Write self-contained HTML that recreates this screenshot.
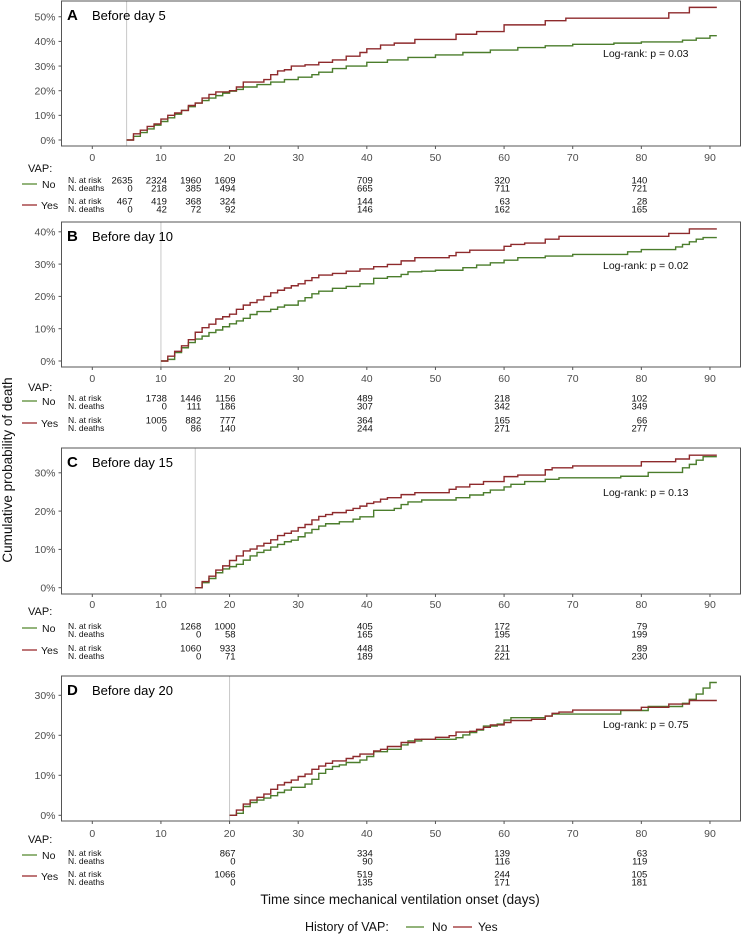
<!DOCTYPE html>
<html><head><meta charset="utf-8"><style>
html,body{margin:0;padding:0;background:#fff;}
svg{display:block;font-family:"Liberation Sans",Arial,sans-serif;}
</style></head><body>
<svg id="chart" width="742" height="939" viewBox="0 0 742 939" xmlns="http://www.w3.org/2000/svg">
<text x="0" y="0" transform="translate(12,470) rotate(-90)" text-anchor="middle" font-size="13.5" fill="#111">Cumulative probability of death</text>
<text x="400" y="904" text-anchor="middle" font-size="13.5" fill="#111">Time since mechanical ventilation onset (days)</text>
<g>
<text x="305" y="931" font-size="12.5" fill="#111">History of VAP:</text>
<line x1="406" y1="927" x2="424" y2="927" stroke="#6f9a4f" stroke-width="1.6"/>
<text x="432" y="931" font-size="12" fill="#111">No</text>
<line x1="453" y1="927" x2="472" y2="927" stroke="#a8484a" stroke-width="1.6"/>
<text x="478" y="931" font-size="12" fill="#111">Yes</text>
</g>
</svg>
<script>
// ---- data ----
const panelLetters = ["A","B","C","D"];
const panelTitles = ["Before day 5","Before day 10","Before day 15","Before day 20"];
const landmarkDays = [5,10,15,20];
const logrankLabels = ["Log-rank: p = 0.03","Log-rank: p = 0.02","Log-rank: p = 0.13","Log-rank: p = 0.75"];
const xTicks = [0,10,20,30,40,50,60,70,80,90];
const yTicksA = [0,10,20,30,40,50];
const yTicksB = [0,10,20,30,40];
const yTicksC = [0,10,20,30];
const yTicksD = [0,10,20,30];

const noA = [[5,0],[6,1.5],[7,3],[8,4.5],[9,6],[10,7.5],[11,9],[12,10.5],[13,12],[14,13.5],[15,15],[16,16],[17,17],[18,18],[19,19],[20,19.8],[21,20.5],[22,21.5],[24,22.5],[26,23.5],[28,24.5],[30,25.5],[32,26.5],[33,27.5],[35,29],[37,30],[40,31.5],[43,32.5],[46,33.5],[50,34.5],[54,35.5],[58,36.5],[62,37.5],[66,38.2],[70,38.8],[76,39.3],[80,39.8],[86,40.5],[88,41.3],[90,42.3],[91,42.3]];
const yesA = [[5,0],[6,2.5],[7,4],[8,5.5],[9,6.5],[10,8.5],[11,10],[12,11],[13,12],[14,14],[15,15],[16,17],[17,18.5],[18,19.5],[20,20],[21,21.5],[22,23.5],[25,24.5],[26,26.5],[27,28],[28,28.5],[29,30],[31,30.5],[33,31.5],[35,32.5],[37,34],[39,35.5],[40,37],[42,38.5],[44,39.3],[47,40.8],[53,42.9],[56,44],[60,46.7],[66,48.4],[69,49.4],[84,51.6],[87,53.8],[91,53.8]];
const noB = [[10,0],[11,0.5],[12,2.6],[13,4.1],[14,5.7],[15,6.8],[16,7.7],[17,8.8],[18,9.6],[19,10.6],[20,11.5],[21,12.4],[22,13.2],[23,14.4],[24,15.3],[26,16],[27,16.7],[28,17.3],[30,18.6],[31,19.6],[32,20.8],[33,21.6],[35,22.5],[37,23.1],[39,23.9],[41,25.6],[43,26.1],[45,26.8],[46,27.6],[48,27.8],[50,28.1],[54,28.9],[56,29.7],[58,30.4],[60,31.2],[62,32],[66,32.5],[70,33],[78,33.8],[80,34.5],[85,35.3],[86,36.1],[87,36.9],[88,37.7],[89,38.2],[91,38.2]];
const yesB = [[10,0],[11,1.5],[12,3],[13,4.7],[14,6.6],[15,8.9],[16,10.3],[17,11.4],[18,13],[19,13.7],[20,14.5],[21,16],[22,17.3],[23,18.1],[24,18.9],[25,20],[26,21.1],[27,21.9],[28,22.6],[29,23.3],[30,23.9],[31,24.9],[32,25.8],[33,26.6],[35,27.1],[37,27.8],[39,28.5],[41,29.2],[43,29.9],[45,31],[47,32],[52,32.6],[53,33.6],[55,34.3],[60,35.5],[61,36.1],[63,36.5],[66,37.7],[68,38.6],[84,39.5],[87,40.9],[91,40.9]];
const noC = [[15,0],[16,1.3],[17,2.4],[18,3.9],[19,4.9],[20,5.5],[21,6.1],[22,7.2],[23,8.3],[24,9.2],[25,9.8],[26,10.6],[27,11.3],[28,12],[29,12.4],[30,13.3],[31,14.3],[32,15.2],[33,16.1],[34,16.7],[36,17.2],[38,17.9],[39,18.5],[41,20.2],[44,20.7],[45,21.7],[46,22.4],[48,22.9],[53,23.5],[55,24.2],[57,24.8],[58,25.5],[60,26.3],[61,27],[63,27.7],[66,28.3],[68,28.7],[77,29.1],[81,30.1],[86,31.3],[87,32.2],[88,33.3],[89,34.2],[91,34.2]];
const yesC = [[15,0],[16,1.6],[17,3],[18,4.6],[19,5.7],[20,7.1],[21,8.3],[22,9.6],[23,10.1],[24,10.9],[25,11.6],[26,12.5],[27,13.6],[28,14.2],[29,14.8],[30,15.7],[31,16.5],[32,17.7],[33,18.6],[34,19.1],[35,19.6],[37,20.2],[38,20.7],[39,21.3],[40,22],[41,22.4],[42,23.1],[43,23.5],[45,24.3],[47,24.8],[52,25.7],[53,26.3],[55,27],[57,27.7],[60,29],[62,29.4],[66,30.8],[67,31.3],[70,31.8],[80,32.9],[85,33.6],[87,34.6],[91,34.6]];
const noD = [[20,0],[21,0.5],[22,2.2],[23,3.2],[24,3.8],[25,4.3],[26,4.9],[27,5.7],[28,6.3],[29,7],[31,7.8],[32,9],[33,10.5],[34,11.5],[35,12.2],[36,12.6],[37,13.2],[39,13.8],[40,14.7],[41,15.9],[43,16.5],[45,17.6],[46,18.6],[48,19],[53,19.4],[54,20.1],[55,20.7],[56,21.3],[57,22.3],[59,22.8],[60,23.8],[61,24.4],[66,24.8],[67,25.3],[77,26.2],[81,27.2],[86,28],[87,29],[88,30.3],[89,31.8],[90,33.2],[91,33.2]];
const yesD = [[20,0],[21,1.3],[22,2.8],[23,3.8],[24,4.5],[25,5.3],[26,6.5],[27,7.6],[28,8.2],[29,8.8],[30,9.7],[31,10.3],[32,11.5],[33,12.3],[34,13],[35,13.6],[37,14.2],[38,14.7],[39,15.3],[41,16.1],[42,16.5],[43,17.2],[45,18.2],[47,19],[50,19.5],[52,19.9],[53,20.8],[55,21],[56,21.5],[57,22],[58,22.6],[60,23.2],[61,23.7],[64,24],[66,24.8],[67,25.5],[68,25.8],[70,26.3],[80,27],[84,27.8],[87,28.7],[91,28.7]];

const riskDaysA = [5,10,15,20,40,60,80];
const riskDaysB = [10,15,20,40,60,80];
const riskDaysC = [15,20,40,60,80];
const riskDaysD = [20,40,60,80];
const noRiskA = [2635,2324,1960,1609,709,320,140];
const noDeathsA = [0,218,385,494,665,711,721];
const yesRiskA = [467,419,368,324,144,63,28];
const yesDeathsA = [0,42,72,92,146,162,165];
const noRiskB = [1738,1446,1156,489,218,102];
const noDeathsB = [0,111,186,307,342,349];
const yesRiskB = [1005,882,777,364,165,66];
const yesDeathsB = [0,86,140,244,271,277];
const noRiskC = [1268,1000,405,172,79];
const noDeathsC = [0,58,165,195,199];
const yesRiskC = [1060,933,448,211,89];
const yesDeathsC = [0,71,189,221,230];
const noRiskD = [867,334,139,63];
const noDeathsD = [0,90,116,119];
const yesRiskD = [1066,519,244,105];
const yesDeathsD = [0,135,171,181];

// ---- layout ----
const NS = "http://www.w3.org/2000/svg";
const svg = document.getElementById("chart");
const boxL = 61.5, boxR = 740.5;
const xDay = d => 92.3 + d * 6.863;
const layout = [
  {top:1, bottom:146, zero:140, ppp:2.465, tl:157, vap:168, rows:[180,188,201,209], leg:[184,205], lr:53},
  {top:222, bottom:367, zero:361, ppp:3.23, tl:378, vap:387, rows:[398,406,420,428], leg:[401,423], lr:265},
  {top:448, bottom:594, zero:587.7, ppp:3.83, tl:604, vap:611, rows:[626,634,648,656], leg:[628,650], lr:492},
  {top:676, bottom:821, zero:815.3, ppp:4.0, tl:833, vap:839, rows:[853,861,874,882], leg:[855,876], lr:724}
];
const yTicksAll = [yTicksA,yTicksB,yTicksC,yTicksD];
const curvesNo = [noA,noB,noC,noD];
const curvesYes = [yesA,yesB,yesC,yesD];
const riskDays = [riskDaysA,riskDaysB,riskDaysC,riskDaysD];
const tables = [
  [noRiskA,noDeathsA,yesRiskA,yesDeathsA],
  [noRiskB,noDeathsB,yesRiskB,yesDeathsB],
  [noRiskC,noDeathsC,yesRiskC,yesDeathsC],
  [noRiskD,noDeathsD,yesRiskD,yesDeathsD]
];
function mk(tag, attrs, parent){
  const e = document.createElementNS(NS, tag);
  for (const k in attrs) e.setAttribute(k, attrs[k]);
  (parent||svg).appendChild(e);
  return e;
}
function stepPath(pts, L){
  const y = v => L.zero - v * L.ppp;
  let d = "M" + xDay(pts[0][0]).toFixed(2) + "," + y(pts[0][1]).toFixed(2);
  for (let i = 1; i < pts.length; i++){
    d += " H" + xDay(pts[i][0]).toFixed(2) + " V" + y(pts[i][1]).toFixed(2);
  }
  return d;
}
layout.forEach((L, p) => {
  const g = mk("g", {});
  
  
  const box = mk("rect", {x:boxL, y:L.top, width:boxR-boxL, height:L.bottom-L.top, fill:"#fff", stroke:"#555", "stroke-width":1}, g);
  
  
  const vl = mk("line", {x1:xDay(landmarkDays[p]), x2:xDay(landmarkDays[p]), y1:L.top+0.5, y2:L.bottom-0.5, stroke:"#c8c8c8", "stroke-width":1}, g);
  
  
  yTicksAll[p].forEach(t => {
    const yy = L.zero - t * L.ppp;
    const tk = mk("line", {x1:boxL-3, x2:boxL, y1:yy, y2:yy, stroke:"#555"}, g);
    
    
    const tx = mk("text", {x:boxL-6, y:yy+3.8, "text-anchor":"end", "font-size":"10.5", fill:"#4d4d4d"}, g);
    
    
    tx.textContent = t + "%";
  });
  xTicks.forEach(t => {
    const xx = xDay(t);
    const tk = mk("line", {x1:xx, x2:xx, y1:L.bottom, y2:L.bottom+3, stroke:"#555"}, g);
    
    
    const tx = mk("text", {x:xx, y:L.tl+4, "text-anchor":"middle", "font-size":"10.5", fill:"#4d4d4d"}, g);
    
    
    tx.textContent = t;
  });
  const lt = mk("text", {x:67, y:L.top+19, "font-size":"15", "font-weight":"bold", fill:"#000"}, g);
  
  
  lt.textContent = panelLetters[p];
  const tt = mk("text", {x:92, y:L.top+19, "font-size":"13", fill:"#000"}, g);
  
  
  tt.textContent = panelTitles[p];
  const lr = mk("text", {x:603, y:L.lr+4, "font-size":"10.5", fill:"#111"}, g);
  
  
  lr.textContent = logrankLabels[p];
  const cn = mk("path", {d:stepPath(curvesNo[p], L), fill:"none", stroke:"#4b7d2c", "stroke-width":1.4}, g);
  
  
  const cy = mk("path", {d:stepPath(curvesYes[p], L), fill:"none", stroke:"#8e2a2c", "stroke-width":1.4}, g);
  
  
  // risk table
  const vap = mk("text", {x:28, y:L.vap+4, "font-size":"11", fill:"#111"}, g);
  
  
  vap.textContent = "VAP:";
  [["No","#6f9a4f",0],["Yes","#a8484a",1]].forEach(([lab,col,k]) => {
    const ln = mk("line", {x1:22, x2:37, y1:L.leg[k], y2:L.leg[k], stroke:col, "stroke-width":1.5}, g);
    
    
    const lb = mk("text", {x:k ? 41 : 42, y:L.leg[k]+4, "font-size":"10.5", fill:"#111"}, g);
    
    
    lb.textContent = lab;
  });
  const rowNames = ["N. at risk","N. deaths","N. at risk","N. deaths"];
  rowNames.forEach((rn, r) => {
    const t = mk("text", {x:68, y:L.rows[r]+3, "font-size":"8.5", fill:"#111"}, g);
    
    
    t.textContent = rn;
    tables[p][r].forEach((v, i) => {
      const n = mk("text", {x:xDay(riskDays[p][i])+6, y:L.rows[r]+3.5, "text-anchor":"end", "font-size":"9.5", fill:"#111"}, g);
      
      
      n.textContent = v;
    });
  });
});
</script>
</body></html>
